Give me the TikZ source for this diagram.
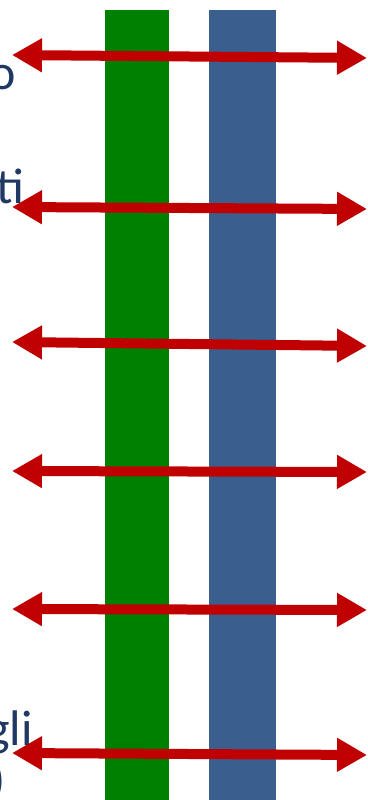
\documentclass[tikz,border=0pt]{standalone}
\usepackage{fontspec}
\setmainfont{Carlito}
\usetikzlibrary{arrows.meta}
\definecolor{barGreen}{RGB}{0,128,0}
\definecolor{barBlue}{RGB}{58,95,143}
\definecolor{arrowRed}{RGB}{192,0,0}
\definecolor{textNavy}{RGB}{31,56,100}

\begin{document}
\begin{tikzpicture}[x=1pt,y=-1pt,
  link/.style={<->,>={Triangle[length=30pt,width=32pt]},line width=10pt,draw=arrowRed},
  cut/.style={anchor=base east,inner sep=0pt,text=textNavy,font=\fontsize{50}{60}\selectfont}]
  \useasboundingbox (0,0) rectangle (367,800);
  \clip (0,0) rectangle (367,800);
  % bars
  \fill[barGreen] (105,10) rectangle (169,800);
  \fill[barBlue] (209,10) rectangle (276,800);
  % cut-off words on the left
  \node[cut] (wordA) at (16,89) {o};
  \node[cut] (wordB) at (25,203) {ti};
  \node[cut] (wordC) at (33,745) {gli};
  \node[cut] (wordD) at (6,796) {)};
  % arrows
  \foreach \n/\yl/\yr in {1/55/58, 2/207/209, 3/342/346, 4/471/472, 5/609/610, 6/753/755} {
    \coordinate (left\n) at (12,\yl);
    \coordinate (right\n) at (367,\yr);
    \draw[link] (left\n) -- (right\n);
  }
\end{tikzpicture}
\end{document}
